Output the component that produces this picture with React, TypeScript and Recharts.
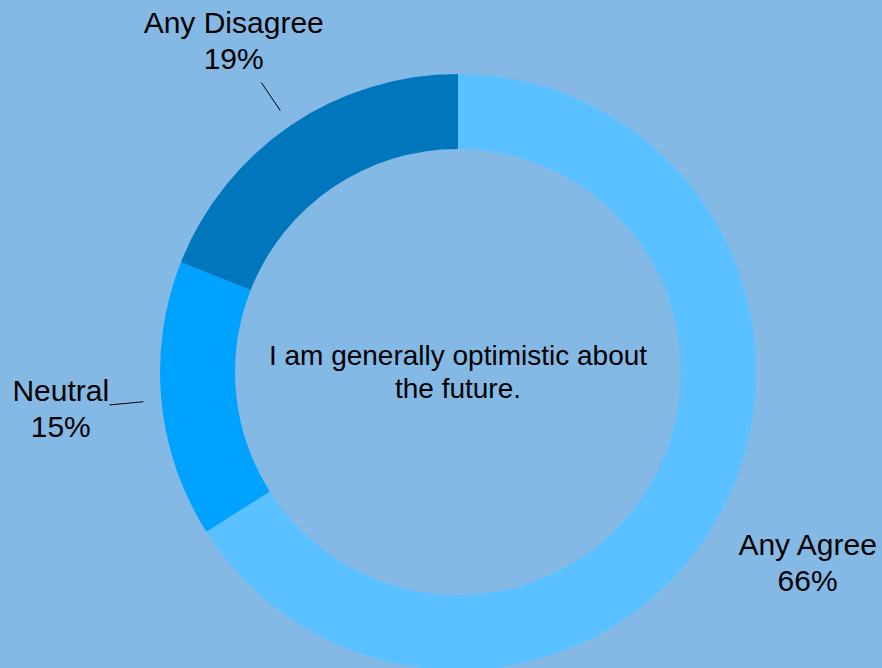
import { PieChart, Pie, Cell, Label } from 'recharts';

const categories = ['Any Agree', 'Neutral', 'Any Disagree'];
const shares = [66, 15, 19];
const colors = ['#5ac0ff', '#00a2ff', '#0077bd'];
const centerLines = ['I am generally optimistic about', 'the future.'];

const data = categories.map((name, i) => ({ name, value: shares[i] }));

const RAD = Math.PI / 180;
const FONT = '"Liberation Sans", Arial, Helvetica, sans-serif';
const CX = 458;
const CY = 372;

const renderLabel = (props: any) => {
  const { cx, cy, midAngle, outerRadius, name, value, percent } = props;
  const cos = Math.cos(-midAngle * RAD);
  const sin = Math.sin(-midAngle * RAD);
  const r1 = outerRadius + 18;
  const r2 = outerRadius + 52;
  const rt = outerRadius + 101;
  const tx = cx + rt * cos;
  const ty = cy + rt * sin;
  return (
    <g>
      {percent < 0.5 && (
        <line
          x1={cx + r1 * cos}
          y1={cy + r1 * sin}
          x2={cx + r2 * cos}
          y2={cy + r2 * sin}
          stroke="#000"
          strokeWidth={1}
        />
      )}
      <text x={tx} y={ty} textAnchor="middle" fontSize={30} fontFamily={FONT} fill="#000">
        <tspan x={tx} dy={-9}>{name}</tspan>
        <tspan x={tx} dy={36}>{value}%</tspan>
      </text>
    </g>
  );
};

const renderCenter = () => (
  <text x={CX} y={CY} textAnchor="middle" fontSize={28} fontFamily={FONT} fill="#000">
    <tspan x={CX} dy={-7}>{centerLines[0]}</tspan>
    <tspan x={CX} dy={33}>{centerLines[1]}</tspan>
  </text>
);

export default function App() {
  return (
    <div style={{ position: 'absolute', left: 0, top: 0, width: 882, height: 668, background: '#84b9e6', overflow: 'hidden' }}>
      <PieChart width={882} height={668} margin={{ top: 0, right: 0, bottom: 0, left: 0 }}>
        <Pie
          data={data}
          dataKey="value"
          nameKey="name"
          cx={CX}
          cy={CY}
          innerRadius={223}
          outerRadius={298}
          startAngle={90}
          endAngle={-270}
          stroke="none"
          label={renderLabel}
          labelLine={false}
          isAnimationActive={false}
        >
          {data.map((d, i) => (
            <Cell key={d.name} fill={colors[i]} />
          ))}
          <Label position="center" content={renderCenter} />
        </Pie>
      </PieChart>
    </div>
  );
}
